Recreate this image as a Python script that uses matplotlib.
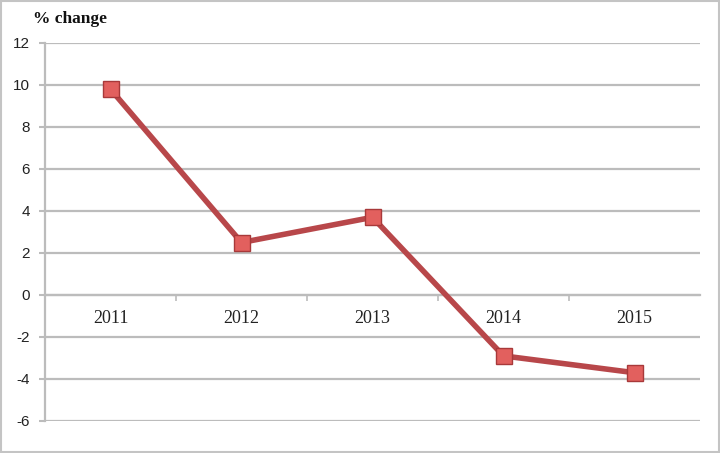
import numpy as np
from matplotlib import pyplot as plt
from matplotlib.patches import Rectangle

years = ["2011", "2012", "2013", "2014", "2015"]
pct_change = [9.8, 2.5, 3.7, -2.9, -3.7]
y_ticks = [-6, -4, -2, 0, 2, 4, 6, 8, 10, 12]

grid_col = "#bcbcbc"
line_col = "#b8474a"

fig = plt.figure(figsize=(7.2, 4.53), dpi=100)
ax = fig.add_axes([45 / 720, 32 / 453, 655 / 720, 378 / 453])

x = np.arange(len(years))
ax.plot(x, pct_change, "-", color=line_col, lw=4, zorder=3,
        marker="s", ms=12, mfc="#e2605e", mec="#a8393a", mew=1.0,
        solid_joinstyle="miter")

ax.set_xlim(-0.5, len(years) - 0.5)
ax.set_ylim(-6, 12)
ax.set_yticks(y_ticks)
ax.set_yticklabels([str(v) for v in y_ticks], fontsize=11,
                   family="Liberation Sans", color="#222222")
ax.grid(True, axis="y", color=grid_col, lw=1.6)
ax.set_axisbelow(True)

# category axis sits on the zero line
ax.spines["bottom"].set_position(("data", 0))
ax.spines["bottom"].set_color(grid_col)
ax.spines["bottom"].set_linewidth(1.6)
ax.spines["left"].set_color(grid_col)
ax.spines["left"].set_linewidth(1.6)
ax.spines["top"].set_visible(False)
ax.spines["right"].set_visible(False)

ax.set_xticks(x)
ax.set_xticklabels(years, fontsize=13, family="Liberation Serif", color="#222222")
ax.set_xticks(x[:-1] + 0.5, minor=True)
ax.tick_params(axis="x", which="major", length=0, pad=11)
ax.tick_params(axis="x", which="minor", length=4, width=1.2, color=grid_col)
ax.tick_params(axis="y", length=4, width=1.5, color=grid_col, pad=7)

fig.text(33 / 720, 1 - 19 / 453, "% change", fontsize=12.5, fontweight="bold",
         family="Liberation Serif", va="center", ha="left", color="#111111")

fig.patches.append(Rectangle((0.002, 0.003), 0.996, 0.994, transform=fig.transFigure,
                             fill=False, ec="#c4c4c4", lw=1.5))

fig.savefig("out.png", dpi=100)
